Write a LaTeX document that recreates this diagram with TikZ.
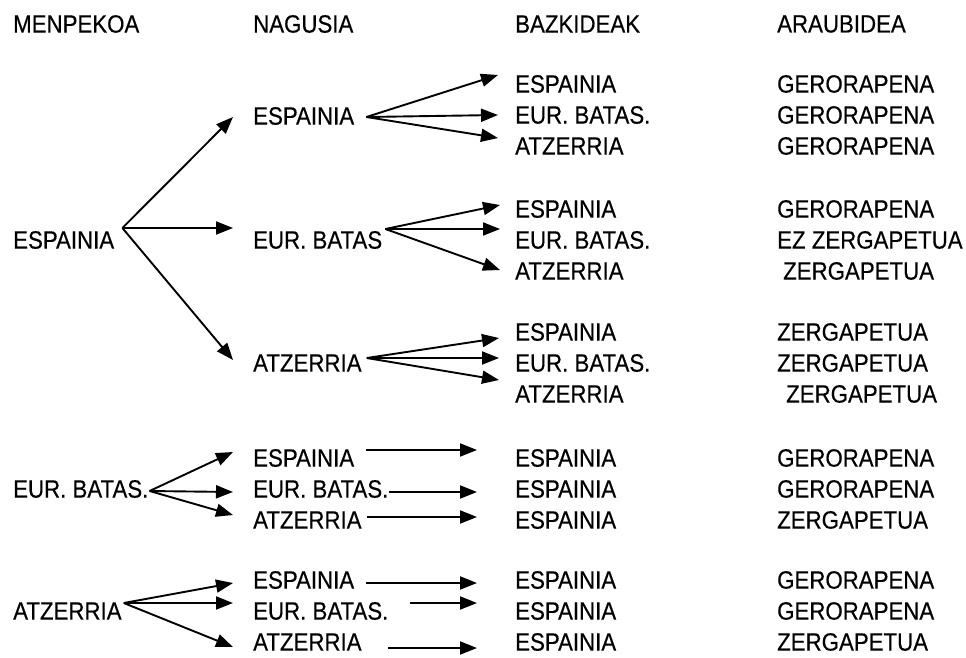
\documentclass[tikz,border=0pt]{standalone}
\usepackage{fontspec}
\setmainfont[FakeStretch=0.89,FakeBold=0.4]{Liberation Sans}
\usepackage{tikz}
\usetikzlibrary{arrows.meta}

\tikzset{
  lbl/.style={anchor=west,inner sep=0pt,font=\fontsize{25}{30}\selectfont},
  arr/.style={line width=1.9pt,-{Triangle[length=17pt,width=13pt]}}
}

\begin{document}
\begin{tikzpicture}[x=1pt,y=-1pt]
              \useasboundingbox (0,0) rectangle (966,657);

              % column heads
              \node[lbl] (hm) at (13,24) {MENPEKOA};
              \node[lbl] (hn) at (253,24) {NAGUSIA};
              \node[lbl] (hb) at (515,24) {BAZKIDEAK};
              \node[lbl] (ha) at (777,24) {ARAUBIDEA};

              % menpekoa
              \node[lbl] (m1) at (13,240) {ESPAINIA};
              \node[lbl] (m2) at (13,489) {EUR. BATAS.};
              \node[lbl] (m3) at (13,611) {ATZERRIA};

              % nagusia
              \node[lbl] (n11) at (253,116) {ESPAINIA};
              \node[lbl] (n12) at (253,240) {EUR. BATAS};
              \node[lbl] (n13) at (253,363) {ATZERRIA};
              \node[lbl] (n21) at (253,458) {ESPAINIA};
              \node[lbl] (n22) at (253,489) {EUR. BATAS.};
              \node[lbl] (n23) at (253,520) {ATZERRIA};
              \node[lbl] (n31) at (253,580) {ESPAINIA};
              \node[lbl] (n32) at (253,611) {EUR. BATAS.};
              \node[lbl] (n33) at (253,642) {ATZERRIA};

              % bazkideak
              \node[lbl] (b11) at (515,84) {ESPAINIA};
              \node[lbl] (b12) at (515,115) {EUR. BATAS.};
              \node[lbl] (b13) at (515,146) {ATZERRIA};
              \node[lbl] (b21) at (515,209) {ESPAINIA};
              \node[lbl] (b22) at (515,240) {EUR. BATAS.};
              \node[lbl] (b23) at (515,271) {ATZERRIA};
              \node[lbl] (b31) at (515,332) {ESPAINIA};
              \node[lbl] (b32) at (515,363) {EUR. BATAS.};
              \node[lbl] (b33) at (515,394) {ATZERRIA};
              \node[lbl] (c21) at (515,458) {ESPAINIA};
              \node[lbl] (c22) at (515,489) {ESPAINIA};
              \node[lbl] (c23) at (515,520) {ESPAINIA};
              \node[lbl] (c31) at (515,580) {ESPAINIA};
              \node[lbl] (c32) at (515,611) {ESPAINIA};
              \node[lbl] (c33) at (515,642) {ESPAINIA};

              % araubidea
              \node[lbl] (a11) at (777,84) {GERORAPENA};
              \node[lbl] (a12) at (777,115) {GERORAPENA};
              \node[lbl] (a13) at (777,146) {GERORAPENA};
              \node[lbl] (a21) at (777,209) {GERORAPENA};
              \node[lbl] (a22) at (777,240) {EZ ZERGAPETUA};
              \node[lbl] (a23) at (783,271) {ZERGAPETUA};
              \node[lbl] (a31) at (777,332) {ZERGAPETUA};
              \node[lbl] (a32) at (777,363) {ZERGAPETUA};
              \node[lbl] (a33) at (786,394) {ZERGAPETUA};
              \node[lbl] (a41) at (777,458) {GERORAPENA};
              \node[lbl] (a42) at (777,489) {GERORAPENA};
              \node[lbl] (a43) at (777,520) {ZERGAPETUA};
              \node[lbl] (a51) at (777,580) {GERORAPENA};
              \node[lbl] (a52) at (777,611) {GERORAPENA};
              \node[lbl] (a53) at (777,642) {ZERGAPETUA};

              % fan points
              \coordinate (v1) at ([shift={(8,-12)}]m1.east);
              \coordinate (v2) at ([shift={(1,2)}]m2.east);
              \coordinate (v3) at ([shift={(2,-8)}]m3.east);
              \coordinate (w1) at ([shift={(12,1)}]n11.east);
              \coordinate (w2) at ([shift={(3,-11)}]n12.east);
              \coordinate (w3) at ([shift={(5,-5)}]n13.east);

              \draw[arr] (v1) -- ([shift={(-20,1)}]n11.west);
              \draw[arr] (v1) -- ([shift={(-20,-12)}]n12.west);
              \draw[arr] (v1) -- ([shift={(-20,-3)}]n13.west);
              \draw[arr] (v2) -- ([shift={(-20,-6)}]n21.west);
              \draw[arr] (v2) -- ([shift={(-20,3)}]n22.west);
              \draw[arr] (v2) -- ([shift={(-20,-5)}]n23.west);
              \draw[arr] (v3) -- ([shift={(-20,3)}]n31.west);
              \draw[arr] (v3) -- ([shift={(-20,-8)}]n32.west);
              \draw[arr] (v3) -- ([shift={(-20,5)}]n33.west);

              \draw[arr] (w1) -- ([shift={(-17,-9)}]b11.west);
              \draw[arr] (w1) -- ([shift={(-17,0)}]b12.west);
              \draw[arr] (w1) -- ([shift={(-17,-8)}]b13.west);
              \draw[arr] (w2) -- ([shift={(-15,-4)}]b21.west);
              \draw[arr] (w2) -- ([shift={(-15,-11)}]b22.west);
              \draw[arr] (w2) -- ([shift={(-15,-1)}]b23.west);
              \draw[arr] (w3) -- ([shift={(-16,6)}]b31.west);
              \draw[arr] (w3) -- ([shift={(-16,-5)}]b32.west);
              \draw[arr] (w3) -- ([shift={(-16,-14)}]b33.west);

              \draw[arr] ([shift={(12,-8)}]n21.east) -- ([shift={(-38,-8)}]c21.west);
              \draw[arr] ([shift={(0,3)}]n22.east) -- ([shift={(-38,3)}]c22.west);
              \draw[arr] ([shift={(5,-3)}]n23.east) -- ([shift={(-38,-3)}]c23.west);
              \draw[arr] ([shift={(12,3)}]n31.east) -- ([shift={(-38,3)}]c31.west);
              \draw[arr] ([shift={(21,-8)}]n32.east) -- ([shift={(-38,-8)}]c32.west);
              \draw[arr] ([shift={(26,6)}]n33.east) -- ([shift={(-38,6)}]c33.west);
            \end{tikzpicture}
\end{document}
